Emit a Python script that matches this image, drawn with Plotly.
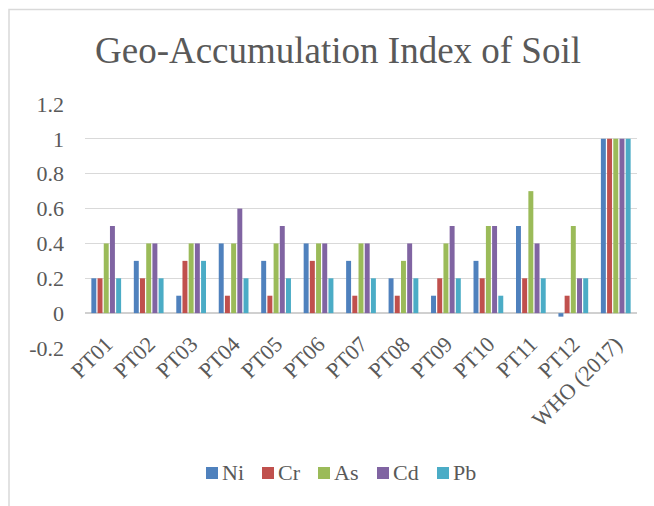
import plotly.graph_objects as go

categories = ["PT01", "PT02", "PT03", "PT04", "PT05", "PT06", "PT07",
              "PT08", "PT09", "PT10", "PT11", "PT12", "WHO (2017)"]
ni = [0.2, 0.3, 0.1, 0.4, 0.3, 0.4, 0.3, 0.2, 0.1, 0.3, 0.5, -0.02, 1]
cr = [0.2, 0.2, 0.3, 0.1, 0.1, 0.3, 0.1, 0.1, 0.2, 0.2, 0.2, 0.1, 1]
as_ = [0.4, 0.4, 0.4, 0.4, 0.4, 0.4, 0.4, 0.3, 0.4, 0.5, 0.7, 0.5, 1]
cd = [0.5, 0.4, 0.4, 0.6, 0.5, 0.4, 0.4, 0.4, 0.5, 0.5, 0.4, 0.2, 1]
pb = [0.2, 0.2, 0.3, 0.2, 0.2, 0.2, 0.2, 0.2, 0.2, 0.1, 0.2, 0.2, 1]

series_names = ["Ni", "Cr", "As", "Cd", "Pb"]
series_values = [ni, cr, as_, cd, pb]
colors = ["#4F81BD", "#C0504D", "#9BBB59", "#8064A2", "#4BACC6"]

y_tickvals = [-0.2, 0, 0.2, 0.4, 0.6, 0.8, 1, 1.2]
y_ticktext = ["-0.2", "0", "0.2", "0.4", "0.6", "0.8", "1", "1.2"]

FONT = "Liberation Serif"
GRAY = "#595959"

fig = go.Figure()
for name, vals, col in zip(series_names, series_values, colors):
    fig.add_trace(go.Bar(x=categories, y=vals, name=name, showlegend=False,
                         marker=dict(color=col, line=dict(width=0))))

W, H = 654, 506
L, R, T, B = 85, 17, 104, 158
pw, ph = W - L - R, H - T - B


def px(x):
    return (x - L) / pw


def py(y):
    return (H - B - y) / ph


# custom legend (Excel style: small square close to the label)
legend_square_left = [206, 262, 318, 377, 437]
shapes = [dict(type="rect", xref="paper", yref="paper",
               x0=px(9), x1=px(W + 10), y0=py(H + 10), y1=py(9.5),
               line=dict(color="#D9D9D9", width=1.5), layer="below")]
annotations = []
for name, col, xl in zip(series_names, colors, legend_square_left):
    shapes.append(dict(type="rect", xref="paper", yref="paper",
                       x0=px(xl), x1=px(xl + 12), y0=py(479), y1=py(467),
                       fillcolor=col, line=dict(width=0)))
    annotations.append(dict(text=name, xref="paper", yref="paper",
                            x=px(xl + 14), y=py(473), xanchor="left",
                            yanchor="middle", showarrow=False,
                            font=dict(family=FONT, size=22, color=GRAY)))

fig.update_layout(
    width=W, height=H,
    margin=dict(l=L, r=R, t=T, b=B, autoexpand=False),
    paper_bgcolor="white", plot_bgcolor="white",
    font=dict(family=FONT, color=GRAY, size=22),
    barmode="group", bargap=0.27, bargroupgap=0.2,
    title=dict(text="Geo-Accumulation Index of Soil",
               font=dict(family=FONT, size=37, color=GRAY),
               x=338 / W, xanchor="center", xref="container",
               y=1 - 50 / H, yanchor="middle", yref="container"),
    showlegend=False,
    xaxis=dict(type="category", tickangle=-45, showgrid=False,
               showline=False, ticks="", automargin=False,
               ticklabelstandoff=-22,
               tickfont=dict(family=FONT, size=22, color=GRAY)),
    yaxis=dict(range=[-0.2, 1.2], tickvals=y_tickvals, ticktext=y_ticktext,
               showgrid=True, gridcolor="#D9D9D9", gridwidth=1.3,
               zeroline=True, zerolinecolor="#D0D0D0", zerolinewidth=1.6,
               showline=False, ticks="", ticklabelstandoff=20,
               automargin=False,
               tickfont=dict(family=FONT, size=22, color=GRAY)),
    shapes=shapes,
    annotations=annotations,
)

fig.write_html("out.html",
               config={"displayModeBar": False},
               post_script="document.body.style.margin='0';"
                           "document.body.style.overflow='hidden';")
